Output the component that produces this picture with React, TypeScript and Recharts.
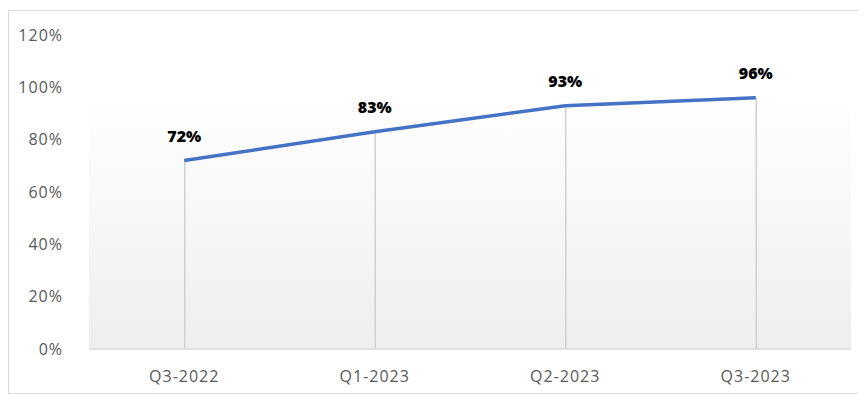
import React from 'react';
import {
  ComposedChart,
  Bar,
  Line,
  XAxis,
  YAxis,
  ReferenceArea,
  LabelList,
} from 'recharts';

// Quý và tỷ lệ (%)
const quarters = ['Q3-2022', 'Q1-2023', 'Q2-2023', 'Q3-2023'];
const rates = [0.72, 0.83, 0.93, 0.96];
const yTicks = [0, 0.2, 0.4, 0.6, 0.8, 1.0, 1.2];

const data = quarters.map((q, i) => ({ quarter: q, rate: rates[i] }));

const pct = (v: number) => `${Math.round(v * 100)}%`;

const FONT = '"Open Sans", "Liberation Sans", sans-serif';

export default function App() {
  return (
    <div
      style={{
        width: 849,
        height: 382,
        marginTop: 2,
        border: '1px solid #d9d9d9',
        background: '#fff',
        fontFamily: FONT,
      }}
    >
      <ComposedChart
        width={849}
        height={382}
        data={data}
        margin={{ top: 24, right: 7, left: 0, bottom: 14 }}
        barCategoryGap={0}
      >
        <defs>
          <linearGradient id="plotBg" x1="0" y1="0" x2="0" y2="1">
            <stop offset="0%" stopColor="#ffffff" />
            <stop offset="20%" stopColor="#ffffff" />
            <stop offset="100%" stopColor="#eeeeee" />
          </linearGradient>
        </defs>
        <ReferenceArea
          y1={0}
          y2={1.2}
          fill="url(#plotBg)"
          fillOpacity={1}
          stroke="none"
          ifOverflow="visible"
        />
        <XAxis
          dataKey="quarter"
          axisLine={{ stroke: '#d9d9d9', strokeWidth: 1.5 }}
          tickLine={false}
          tick={{ fill: '#595959', fontSize: 16, fontFamily: FONT, letterSpacing: 1 }}
          tickMargin={16}
          height={30}
        />
        <YAxis
          domain={[0, 1.2]}
          ticks={yTicks}
          tickFormatter={pct}
          axisLine={false}
          tickLine={false}
          tick={{ fill: '#595959', fontSize: 16, fontFamily: FONT, letterSpacing: 1 }}
          tickMargin={20}
          width={80}
        />
        <Bar
          dataKey="rate"
          barSize={1.5}
          fill="#d0d0d0"
          isAnimationActive={false}
        />
        <Line
          type="linear"
          dataKey="rate"
          stroke="#4472c4"
          strokeWidth={3.5}
          dot={false}
          activeDot={false}
          isAnimationActive={false}
        >
          <LabelList
            dataKey="rate"
            position="top"
            offset={19}
            formatter={(v: number) => pct(v)}
            style={{ fill: '#000', fontSize: 16, fontWeight: 800, fontFamily: FONT }}
          />
        </Line>
      </ComposedChart>
    </div>
  );
}
